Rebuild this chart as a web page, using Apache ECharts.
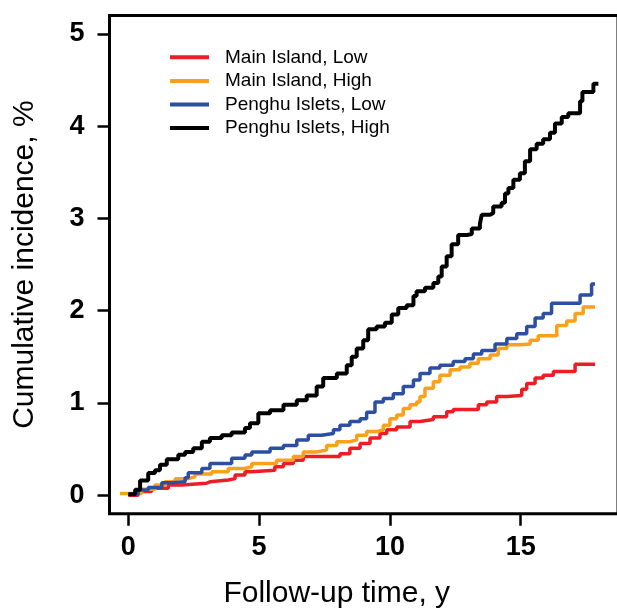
<!DOCTYPE html>
<html>
<head>
<meta charset="utf-8">
<script src="https://cdn.jsdelivr.net/npm/echarts@6/dist/echarts.min.js"></script>
<style>html,body{margin:0;padding:0;background:#fff}#c{width:617px;height:608px}</style>
</head>
<body>
<div id="c"></div>
<script>
var seriesNames = ['Main Island, Low', 'Main Island, High', 'Penghu Islets, Low', 'Penghu Islets, High'];
var xTicks = [0, 5, 10, 15];
var yTicks = [0, 1, 2, 3, 4, 5];

var mainLowT = [0, 0.38, 0.89, 1.53, 2.04, 2.99, 3.12, 3.82, 4.08, 4.46, 4.72, 5.6, 5.93, 6.31, 6.69, 8.09, 8.47, 8.86, 9.24, 9.62, 9.88, 10.26, 10.77, 11.15, 11.66, 12.17, 12.42, 13.38, 13.7, 14.08, 14.47, 15.04, 15.23, 15.55, 15.86, 16.25, 17.08, 17.84];
var mainLowV = [0, 0.04, 0.075, 0.11, 0.13, 0.146, 0.165, 0.18, 0.22, 0.255, 0.27, 0.31, 0.345, 0.38, 0.42, 0.45, 0.51, 0.56, 0.62, 0.67, 0.71, 0.74, 0.80, 0.82, 0.85, 0.905, 0.93, 0.98, 1.01, 1.07, 1.08, 1.15, 1.21, 1.27, 1.30, 1.34, 1.42, 1.42];

var mainHighT = [-0.32, 0.51, 1.02, 1.4, 1.79, 2.29, 2.55, 3.19, 3.82, 4.46, 4.72, 5.67, 6.31, 6.69, 7.2, 7.58, 7.97, 8.47, 8.73, 9.11, 9.5, 9.75, 10.0, 10.26, 10.51, 10.77, 11.02, 11.15, 11.34, 11.66, 11.91, 12.3, 12.68, 13.06, 13.38, 13.83, 14.14, 14.47, 14.97, 15.36, 15.67, 16.38, 16.76, 17.08, 17.39, 17.84];
var mainHighV = [0.02, 0.064, 0.11, 0.146, 0.18, 0.20, 0.23, 0.255, 0.29, 0.31, 0.345, 0.38, 0.42, 0.47, 0.49, 0.54, 0.58, 0.60, 0.65, 0.69, 0.71, 0.76, 0.83, 0.87, 0.94, 0.98, 1.01, 1.07, 1.16, 1.23, 1.30, 1.36, 1.39, 1.43, 1.48, 1.52, 1.59, 1.63, 1.64, 1.68, 1.73, 1.84, 1.89, 1.97, 2.04, 2.04];

var penghuLowT = [0, 0.38, 0.76, 1.28, 1.66, 2.17, 2.29, 2.81, 3.12, 3.95, 4.46, 4.72, 5.42, 5.93, 6.44, 6.88, 7.39, 7.84, 8.09, 8.47, 8.86, 9.11, 9.43, 9.75, 10.13, 10.51, 10.9, 11.15, 11.53, 11.91, 12.42, 12.87, 13.19, 13.51, 14.02, 14.47, 14.85, 15.23, 15.55, 15.86, 16.18, 17.27, 17.71, 17.84];
var penghuLowV = [0.01, 0.057, 0.085, 0.135, 0.146, 0.19, 0.245, 0.29, 0.345, 0.40, 0.435, 0.47, 0.51, 0.54, 0.60, 0.65, 0.67, 0.71, 0.76, 0.80, 0.83, 0.90, 1.01, 1.05, 1.10, 1.18, 1.25, 1.32, 1.38, 1.41, 1.45, 1.48, 1.53, 1.57, 1.64, 1.70, 1.75, 1.83, 1.92, 1.97, 2.08, 2.17, 2.29, 2.29];

var penghuHighT = [0, 0.26, 0.45, 0.76, 1.02, 1.21, 1.47, 1.91, 2.17, 2.48, 2.81, 3.12, 3.57, 3.95, 4.46, 4.65, 4.97, 5.42, 5.93, 6.44, 6.82, 7.2, 7.45, 7.97, 8.35, 8.54, 8.73, 8.98, 9.17, 9.49, 9.81, 10.07, 10.32, 10.64, 10.9, 11.02, 11.34, 11.66, 11.85, 11.98, 12.17, 12.36, 12.61, 12.94, 13.13, 13.44, 13.51, 13.83, 13.95, 14.27, 14.4, 14.53, 14.72, 14.97, 15.16, 15.36, 15.61, 15.86, 16.12, 16.31, 16.57, 16.82, 17.27, 17.36, 17.78, 17.97];
var penghuHighV = [0.01, 0.06, 0.16, 0.24, 0.27, 0.33, 0.39, 0.44, 0.47, 0.51, 0.58, 0.62, 0.65, 0.68, 0.73, 0.78, 0.89, 0.92, 0.98, 1.03, 1.08, 1.18, 1.27, 1.32, 1.41, 1.50, 1.59, 1.68, 1.80, 1.83, 1.87, 1.96, 2.03, 2.06, 2.16, 2.21, 2.25, 2.30, 2.37, 2.48, 2.59, 2.72, 2.82, 2.83, 2.89, 2.94, 3.04, 3.06, 3.13, 3.17, 3.27, 3.33, 3.42, 3.49, 3.62, 3.75, 3.81, 3.86, 3.93, 4.03, 4.10, 4.14, 4.27, 4.37, 4.46, 4.46];

var colors = ['#EE1C25', '#F9A11B', '#2D4FA1', '#000000'];
var lineWidths = [3.5, 3.5, 3.5, 4];

function pairs(t, v) { return t.map(function (x, i) { return [x, v[i]]; }); }
var allData = [pairs(mainLowT, mainLowV), pairs(mainHighT, mainHighV), pairs(penghuLowT, penghuLowV), pairs(penghuHighT, penghuHighV)];

var chart = echarts.init(document.getElementById('c'), null, { renderer: 'canvas' });
var font = 'Arial, "Liberation Sans", sans-serif';
chart.setOption({
  animation: false,
  backgroundColor: '#fff',
  color: colors,
  grid: { left: 109.5, right: -1, top: 15.5, bottom: 94.3, show: true, borderColor: '#000', borderWidth: 3, backgroundColor: 'transparent', containLabel: false, outerBoundsMode: 'none' },
  legend: {
    orient: 'vertical', left: 170, top: 45.5, padding: 0,
    icon: 'rect', itemWidth: 39, itemHeight: 4, itemGap: 0,
    textStyle: { fontSize: 19, fontFamily: font, color: '#000', lineHeight: 23.6, padding: [0, 0, 0, 11] },
    data: seriesNames
  },
  xAxis: {
    type: 'value', min: -0.72, max: 18.72,
    name: 'Follow-up time, y', nameLocation: 'middle', nameGap: 65,
    nameTextStyle: { fontSize: 30, fontFamily: font, color: '#000', padding: [0, 54, 0, 0] },
    axisLine: { show: false, onZero: false },
    splitLine: { show: false },
    axisTick: { show: true, length: 12, lineStyle: { color: '#000', width: 2.5 }, customValues: xTicks },
    axisLabel: { fontSize: 27, fontWeight: 'bold', fontFamily: font, color: '#000', margin: 20, customValues: xTicks }
  },
  yAxis: {
    type: 'value', min: -0.2, max: 5.2,
    name: 'Cumulative incidence, %', nameLocation: 'middle', nameGap: 70,
    nameTextStyle: { fontSize: 30, fontFamily: font, color: '#000' },
    axisLine: { show: false, onZero: false },
    splitLine: { show: false },
    axisTick: { show: true, length: 12, lineStyle: { color: '#000', width: 2.5 }, customValues: yTicks },
    axisLabel: { fontSize: 27, fontWeight: 'bold', fontFamily: font, color: '#000', margin: 25, customValues: yTicks }
  },
  series: seriesNames.map(function (n, i) {
    return { name: n, type: 'line', step: 'end', showSymbol: false, symbol: 'none', data: allData[i], lineStyle: { width: lineWidths[i], color: colors[i] }, itemStyle: { color: colors[i] }, z: 2 + i };
  })
});
</script>
</body>
</html>
